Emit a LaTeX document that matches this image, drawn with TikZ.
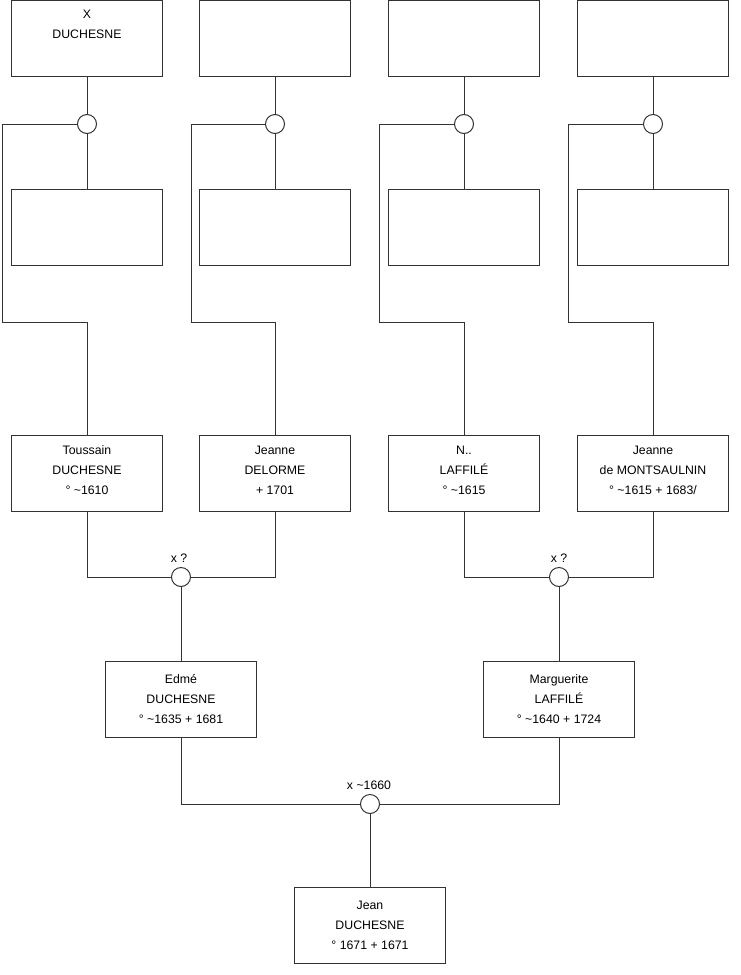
\documentclass[tikz,border=0pt]{standalone}
\usepackage{fontspec}
\setmainfont{Liberation Sans}
\begin{document}
\begin{tikzpicture}[x=1pt,y=-1pt,
  person/.style={draw=black!80,line width=1pt,fill=white,minimum width=151pt,minimum height=76pt,inner sep=0pt,align=center,font=\fontsize{12.3}{20}\selectfont},
  union/.style={draw=black!80,line width=1pt,fill=white,circle,minimum size=19pt,inner sep=0pt},
  lnk/.style={draw=black!80,line width=1pt},
  txt/.style={inner sep=0pt,align=center,font=\fontsize{12.3}{20}\selectfont}]
\useasboundingbox[fill=white] (0,0) rectangle (740,975);
\coordinate (k1) at (2,124);   \coordinate (k1b) at (2,322);   \coordinate (k1c) at (87,322);
\coordinate (k2) at (191,124); \coordinate (k2b) at (191,322); \coordinate (k2c) at (275,322);
\coordinate (k3) at (379,124); \coordinate (k3b) at (379,322); \coordinate (k3c) at (464,322);
\coordinate (k4) at (568,124); \coordinate (k4b) at (568,322); \coordinate (k4c) at (653,322);
% top row
\node[person] (a1) at (87,38) {};
\node[txt,anchor=north] (a1t) at (87,10) {X\\DUCHESNE};
\node[person] (a2) at (275,38) {};
\node[person] (a3) at (464,38) {};
\node[person] (a4) at (653,38) {};
% second row
\node[person] (b1) at (87,227) {};
\node[person] (b2) at (275,227) {};
\node[person] (b3) at (464,227) {};
\node[person] (b4) at (653,227) {};
% unions top
\node[union] (c1) at (87,124) {};
\node[union] (c2) at (275,124) {};
\node[union] (c3) at (464,124) {};
\node[union] (c4) at (653,124) {};
% third row
\node[person] (t1) at (87,473) {};
\node[person] (t2) at (275,473) {};
\node[person] (t3) at (464,473) {};
\node[person] (t4) at (653,473) {};
\node[txt] (t1t) at (87,470) {Toussain\\DUCHESNE\\° \textasciitilde1610};
\node[txt] (t2t) at (275,470) {Jeanne\\DELORME\\+ 1701};
\node[txt] (t3t) at (464,470) {N..\\LAFFILÉ\\° \textasciitilde1615};
\node[txt] (t4t) at (653,470) {Jeanne\\de MONTSAULNIN\\° \textasciitilde1615 + 1683/};
% middle unions
\node[union] (m1) at (181,577) {};
\node[union] (m2) at (559,577) {};
\node[txt] (lm1) at (179,558) {x ?};
\node[txt] (lm2) at (559,558) {x ?};
% fourth row
\node[person] (e1) at (181,699) {Edmé\\DUCHESNE\\° \textasciitilde1635 + 1681};
\node[person] (f1) at (559,699) {Marguerite\\LAFFILÉ\\° \textasciitilde1640 + 1724};
% bottom union
\node[union] (m3) at (370,804) {};
\node[txt] (lm3) at (369,785) {x \textasciitilde1660};
\node[person] (j) at (370,925) {Jean\\DUCHESNE\\° 1671 + 1671};
% connectors
\draw[lnk] (a1) -- (c1) -- (b1);
\draw[lnk] (a2) -- (c2) -- (b2);
\draw[lnk] (a3) -- (c3) -- (b3);
\draw[lnk] (a4) -- (c4) -- (b4);
\draw[lnk] (c1.west) -- (k1) -- (k1b) -- (k1c) -- (t1.north);
\draw[lnk] (c2.west) -- (k2) -- (k2b) -- (k2c) -- (t2.north);
\draw[lnk] (c3.west) -- (k3) -- (k3b) -- (k3c) -- (t3.north);
\draw[lnk] (c4.west) -- (k4) -- (k4b) -- (k4c) -- (t4.north);
\draw[lnk] (t1.south) |- (m1.west);
\draw[lnk] (t2.south) |- (m1.east);
\draw[lnk] (m1) -- (e1);
\draw[lnk] (t3.south) |- (m2.west);
\draw[lnk] (t4.south) |- (m2.east);
\draw[lnk] (m2) -- (f1);
\draw[lnk] (e1.south) |- (m3.west);
\draw[lnk] (f1.south) |- (m3.east);
\draw[lnk] (m3) -- (j);
\end{tikzpicture}
\end{document}
